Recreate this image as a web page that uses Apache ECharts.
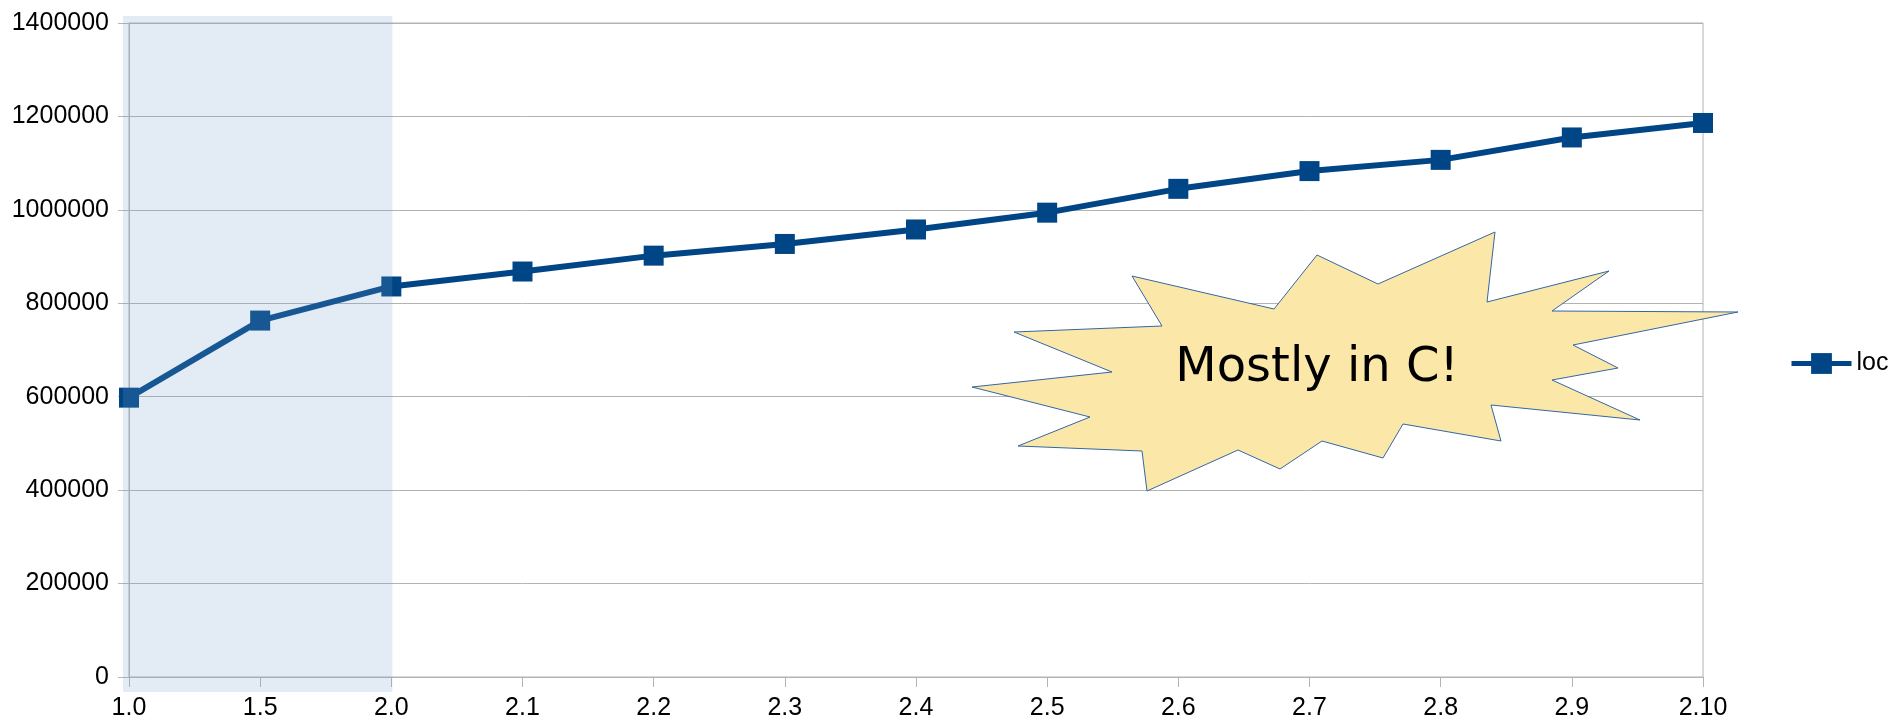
<!DOCTYPE html>
<html>
<head>
<meta charset="utf-8">
<script src="https://cdn.jsdelivr.net/npm/echarts@6/dist/echarts.min.js"></script>
<style>
	html, body { margin: 0; padding: 0; background: #fff; }
	#main { width: 1896px; height: 721px; }
</style>
</head>
<body>
<div id="main"></div>
<script>
	// versions on the x axis
	var versions = ['1.0', '1.5', '2.0', '2.1', '2.2', '2.3', '2.4', '2.5', '2.6', '2.7', '2.8', '2.9', '2.10'];
	// lines of code per version
	var loc = [598000, 763000, 836000, 868000, 902000, 927000, 958000, 994000, 1045000, 1083000, 1107000, 1155000, 1186000];
	var yTicks = [0, 1400000, 200000]; // min, max, step

	// starburst callout outline (pixels)
	var burst = [
		[1132, 276], [1162, 326], [1014, 332], [1112, 372], [972, 387], [1090, 417],
		[1018, 446], [1142, 451], [1147, 491], [1238, 450], [1280, 469], [1322, 441],
		[1383, 458], [1403, 424], [1501, 441], [1491, 405], [1640, 420], [1552, 380],
		[1618, 368], [1573, 345], [1738, 312], [1552, 311], [1609, 271], [1487, 302],
		[1495, 232], [1378, 284], [1317, 255], [1274, 309]
	];

	var grey = '#b3b3b3';
	var font = '"Liberation Sans", Arial, sans-serif';
	var myChart = echarts.init(document.getElementById('main'));

	var option = {
		animation: false,
		grid: {
			left: 129,
			right: 193,
			top: 23,
			bottom: 43,
			show: true,
			borderColor: grey,
			borderWidth: 1
		},
		legend: {
			left: 1789,
			top: 351,
			padding: 0,
			itemWidth: 60,
			itemHeight: 26,
			lineStyle: { width: 5 },
			textStyle: {
				color: '#000',
				fontSize: 25,
				fontFamily: font
			},
			data: ['loc']
		},
		xAxis: {
			type: 'category',
			boundaryGap: false,
			data: versions,
			axisLine: { lineStyle: { color: grey, width: 1 } },
			axisTick: { show: true, length: 10, lineStyle: { color: grey } },
			axisLabel: {
				color: '#000',
				fontSize: 25,
				fontFamily: font,
				margin: 19,
				interval: 0
			},
			splitLine: { show: false }
		},
		yAxis: {
			type: 'value',
			min: yTicks[0],
			max: yTicks[1],
			interval: yTicks[2],
			axisLine: { show: true, lineStyle: { color: grey, width: 1 } },
			axisTick: { show: true, length: 11, lineStyle: { color: grey } },
			axisLabel: {
				color: '#000',
				fontSize: 25,
				fontFamily: font,
				margin: 20,
				formatter: function(val) {
					return val + '';
				}
			},
			splitLine: { show: true, lineStyle: { color: grey, width: 1 } }
		},
		series: [{
			name: 'loc',
			type: 'line',
			data: loc,
			symbol: 'rect',
			symbolSize: 20,
			lineStyle: { width: 6, color: '#004586' },
			itemStyle: { color: '#004586' }
		}]
	};
	myChart.setOption(option);

	// shaded band over 1.0 - 2.0, placed from the axes
	var xa = myChart.convertToPixel({ xAxisIndex: 0 }, '1.0');
	var xb = myChart.convertToPixel({ xAxisIndex: 0 }, '2.0');
	var yTop = myChart.convertToPixel({ yAxisIndex: 0 }, yTicks[1]);
	var yBot = myChart.convertToPixel({ yAxisIndex: 0 }, yTicks[0]);

	myChart.setOption({
		graphic: [{
			type: 'rect',
			z: 100,
			shape: { x: xa - 6, y: yTop - 7, width: xb - xa + 7, height: yBot - yTop + 22 },
			style: { fill: 'rgba(114,159,207,0.2)' }
		}, {
			type: 'polygon',
			z: 110,
			shape: { points: burst },
			style: { fill: '#fbe8a9', stroke: '#3465a4', lineWidth: 1 }
		}, {
			type: 'text',
			z: 120,
			x: 1317,
			y: 369,
			style: {
				text: 'Mostly in C!',
				fill: '#000',
				fontSize: 48,
				fontFamily: '"DejaVu Sans", sans-serif',
				align: 'center',
				verticalAlign: 'middle'
			}
		}]
	});
</script>
</body>
</html>
